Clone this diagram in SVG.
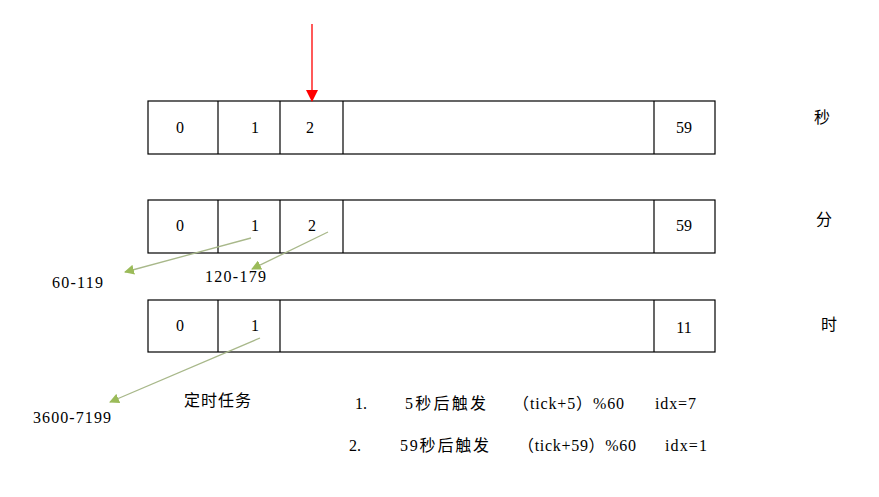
<svg xmlns="http://www.w3.org/2000/svg" width="879" height="497" viewBox="0 0 879 497">
<style>
.box{fill:#fff;stroke:#000;stroke-width:1.2}
.div{stroke:#000;stroke-width:1.2}
.t{font-family:"Liberation Serif","Noto Sans CJK SC",serif;font-size:16px;fill:#000}
.c{text-anchor:middle}
.g{stroke:#a8b88a;stroke-width:1.3;fill:none}
</style>
<defs>
<marker id="ga" markerWidth="10" markerHeight="10" refX="9" refY="5" orient="auto" markerUnits="userSpaceOnUse" viewBox="0 0 10 10"><path d="M0,0 L10,5 L0,10 Z" fill="#9bbb59"/></marker>
<marker id="ra" markerWidth="12" markerHeight="12" refX="11" refY="6" orient="auto" markerUnits="userSpaceOnUse" viewBox="0 0 12 12"><path d="M0,0 L12,6 L0,12 Z" fill="#ff0000"/></marker>
</defs>
<rect width="879" height="497" fill="#fff"/>
<g id="row-sec">
<rect class="box" x="148" y="101" width="567" height="53"/>
<line class="div" x1="218" y1="101" x2="218" y2="154"/>
<line class="div" x1="280" y1="101" x2="280" y2="154"/>
<line class="div" x1="343" y1="101" x2="343" y2="154"/>
<line class="div" x1="654" y1="101" x2="654" y2="154"/>
<text class="t c" x="180" y="133">0</text>
<text class="t c" x="255" y="133">1</text>
<text class="t c" x="310" y="133">2</text>
<text class="t c" x="684" y="133">59</text>
<text class="t c" x="822" y="123">秒</text>
</g>
<g id="row-min">
<rect class="box" x="148" y="200" width="567" height="53"/>
<line class="div" x1="218" y1="200" x2="218" y2="253"/>
<line class="div" x1="280" y1="200" x2="280" y2="253"/>
<line class="div" x1="343" y1="200" x2="343" y2="253"/>
<line class="div" x1="654" y1="200" x2="654" y2="253"/>
<text class="t c" x="180" y="231">0</text>
<text class="t c" x="255" y="231">1</text>
<text class="t c" x="312" y="231">2</text>
<text class="t c" x="684" y="231">59</text>
<text class="t c" x="824" y="225">分</text>
</g>
<g id="row-hour">
<rect class="box" x="148" y="300" width="567" height="52"/>
<line class="div" x1="218" y1="300" x2="218" y2="352"/>
<line class="div" x1="280" y1="300" x2="280" y2="352"/>
<line class="div" x1="654" y1="300" x2="654" y2="352"/>
<text class="t c" x="180" y="331">0</text>
<text class="t c" x="255" y="331">1</text>
<text class="t c" x="684" y="333">11</text>
<text class="t c" x="829" y="330">时</text>
</g>
<g id="connectors">
<line x1="312" y1="24" x2="312" y2="101" stroke="#ff0000" stroke-width="1.3" marker-end="url(#ra)"/>
<line class="g" x1="251" y1="238" x2="125" y2="272" marker-end="url(#ga)"/>
<line class="g" x1="328" y1="232" x2="252" y2="269" marker-end="url(#ga)"/>
<line class="g" x1="260" y1="338" x2="110" y2="402" marker-end="url(#ga)"/>
</g>
<g id="labels">
<text class="t" x="52" y="288" textLength="51" lengthAdjust="spacing">60-119</text>
<text class="t" x="205" y="282" textLength="61" lengthAdjust="spacing">120-179</text>
<text class="t" x="33" y="423" textLength="78" lengthAdjust="spacing">3600-7199</text>
<text class="t" x="184" y="406" textLength="67" lengthAdjust="spacing">定时任务</text>
<text class="t" x="355" y="409">1.</text>
<text class="t" x="405" y="409" textLength="81" lengthAdjust="spacing">5秒后触发</text>
<text class="t" x="513" y="409" textLength="111" lengthAdjust="spacing">（tick+5）%60</text>
<text class="t" x="655" y="409" textLength="41" lengthAdjust="spacing">idx=7</text>
<text class="t" x="349" y="451">2.</text>
<text class="t" x="400" y="451" textLength="89" lengthAdjust="spacing">59秒后触发</text>
<text class="t" x="518" y="451" textLength="118" lengthAdjust="spacing">（tick+59）%60</text>
<text class="t" x="665" y="451" textLength="42" lengthAdjust="spacing">idx=1</text>
</g>
</svg>
